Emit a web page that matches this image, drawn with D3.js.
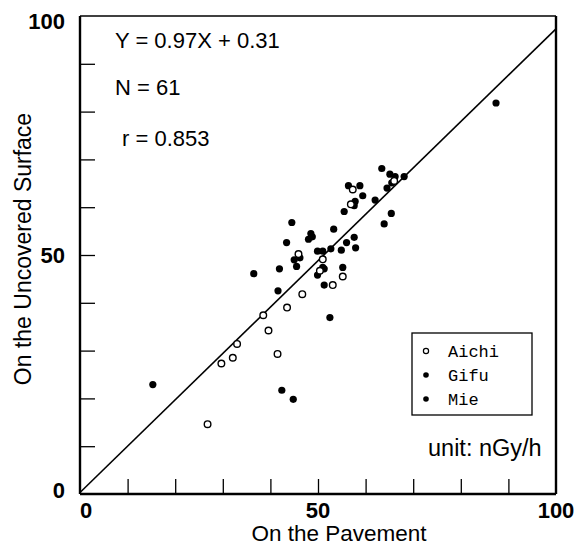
<!DOCTYPE html>
<html><head><meta charset="utf-8">
<script src="https://cdn.jsdelivr.net/npm/d3@7/dist/d3.min.js"></script>
<style>body{margin:0;background:#fff}svg{display:block}</style>
</head><body>
<svg id="chart" width="578" height="548"></svg>
<script>
// Data: [pavement, uncovered surface] in nGy/h
const aichi = [
  [57.3,63.7],[56.9,60.6],[45.9,50.2],[51.0,49.1],[50.4,46.7],[55.2,45.5],
  [53.1,43.7],[46.7,41.8],[43.5,39.0],[38.5,37.4],[39.6,34.2],[33.0,31.4],
  [32.1,28.5],[29.7,27.3],[41.5,29.3],[26.8,14.6],[66.0,65.5]
];
const gifu = [
  [87.4,81.8],[63.4,68.1],[65.1,66.9],[66.2,66.4],[68.1,66.4],[65.5,65.1],
  [56.4,64.5],[58.8,64.5],[59.4,62.4],[62.0,61.5],[57.8,61.2],[57.6,60.3],
  [55.5,59.1],[65.4,58.7],[63.9,56.5],[44.5,56.8],[53.3,55.4],[48.5,54.5],
  [48.8,53.8],[48.0,53.3],[57.6,53.7],[64.5,64.0]
];
const mie = [
  [43.4,52.6],[56.0,52.6],[57.9,51.5],[49.9,50.8],[51.0,50.8],[52.7,51.3],
  [54.9,51.0],[45.0,49.0],[46.2,49.4],[45.5,47.6],[36.5,46.1],[41.9,47.1],
  [51.0,47.4],[51.3,47.1],[49.9,45.8],[55.2,47.4],[51.3,43.7],[41.6,42.5],
  [52.5,36.9],[15.3,22.9],[42.4,21.7],[44.8,19.8]
];
const slope = 0.97, intercept = 0.31;
const tickValues = [10,20,30,40,50,60,70,80,90];
const labelValues = [0,50,100];
const statTexts = ["Y = 0.97X + 0.31","N = 61","r = 0.853"];
const legendNames = ["Aichi","Gifu","Mie"];
const xTitle = "On the Pavement", yTitle = "On the Uncovered Surface", unitText = "unit: nGy/h";

const L=80, R=556, T=16, B=494;
const svg = d3.select("#chart");
const x = d3.scaleLinear().domain([0,100]).range([L,R]);
const y = d3.scaleLinear().domain([0,100]).range([B,T]);
const sans = "'Liberation Sans', Arial, sans-serif";

// ticks (inward)
svg.append("g").attr("transform",`translate(0,${B})`)
  .call(d3.axisBottom(x).tickValues(tickValues).tickSize(-15).tickFormat(""))
  .call(g=>{g.select(".domain").remove(); g.selectAll("line").attr("stroke","#000").attr("stroke-width",1.3);});
svg.append("g").attr("transform",`translate(${L},0)`)
  .call(d3.axisLeft(y).tickValues(tickValues).tickSize(-15).tickFormat(""))
  .call(g=>{g.select(".domain").remove(); g.selectAll("line").attr("stroke","#000").attr("stroke-width",1.3);});

// frame
svg.append("line").attr("x1",L).attr("x2",R).attr("y1",T).attr("y2",T).attr("stroke","#000").attr("stroke-width",1.6);
svg.append("line").attr("x1",R).attr("x2",R).attr("y1",T).attr("y2",B).attr("stroke","#000").attr("stroke-width",2.4);
svg.append("line").attr("x1",L).attr("x2",R).attr("y1",B).attr("y2",B).attr("stroke","#000").attr("stroke-width",2.4);
svg.append("line").attr("x1",L).attr("x2",L).attr("y1",T).attr("y2",B).attr("stroke","#000").attr("stroke-width",2.4);

// tick labels
svg.selectAll(".xl").data(labelValues).join("text")
  .attr("x",d=>Math.min(Math.max(x(d),L+6),R+1)).attr("y",518)
  .attr("text-anchor","middle").attr("font-family",sans).attr("font-weight","bold").attr("font-size",22)
  .text(d=>d);
svg.selectAll(".yl").data(labelValues).join("text")
  .attr("x",65).attr("y",d=>Math.min(Math.max(y(d),T+5),B-4))
  .attr("dy","0.36em")
  .attr("text-anchor","end").attr("font-family",sans).attr("font-weight","bold").attr("font-size",22)
  .text(d=>d);

// axis titles
svg.append("text").attr("x",(L+R)/2+21).attr("y",541).attr("text-anchor","middle")
  .attr("font-family",sans).attr("font-size",22.5).text(xTitle);
svg.append("text").attr("transform",`translate(31,${(T+B)/2-6}) rotate(-90)`).attr("text-anchor","middle")
  .attr("font-family",sans).attr("font-size",23).text(yTitle);

// regression line
svg.append("line").attr("x1",x(0)).attr("y1",y(intercept)).attr("x2",x(100)).attr("y2",y(slope*100+intercept))
  .attr("stroke","#000").attr("stroke-width",1.6);

// points
const filled = gifu.concat(mie);
svg.selectAll(".f").data(filled).join("circle")
  .attr("cx",d=>x(d[0])).attr("cy",d=>y(d[1])).attr("r",3.6).attr("fill","#000");
svg.selectAll(".o").data(aichi).join("circle")
  .attr("cx",d=>x(d[0])).attr("cy",d=>y(d[1])).attr("r",3.3).attr("fill","#fff").attr("stroke","#000").attr("stroke-width",1.4);

// stats text
const statPos = [[115,48],[115,95],[122,146]];
svg.selectAll(".st").data(statTexts).join("text")
  .attr("x",(d,i)=>statPos[i][0]).attr("y",(d,i)=>statPos[i][1])
  .attr("font-family",sans).attr("font-size",22).text(d=>d);

// legend
svg.append("rect").attr("x",412).attr("y",333).attr("width",120).attr("height",82)
  .attr("fill","#fff").attr("stroke","#000").attr("stroke-width",1.3);
legendNames.forEach((n,i)=>{
  const cy = 351 + i*24;
  svg.append("circle").attr("cx",426).attr("cy",cy).attr("r",i===0?2.6:2.8)
    .attr("fill",i===0?"#fff":"#000").attr("stroke","#000").attr("stroke-width",i===0?1.2:0);
  svg.append("text").attr("x",448).attr("y",cy+6).attr("font-family","'Liberation Mono', 'Courier New', monospace")
    .attr("font-size",17).text(n);
});

// unit
svg.append("text").attr("x",428).attr("y",456).attr("font-family",sans).attr("font-size",23.5).text(unitText);
</script>
</body></html>
